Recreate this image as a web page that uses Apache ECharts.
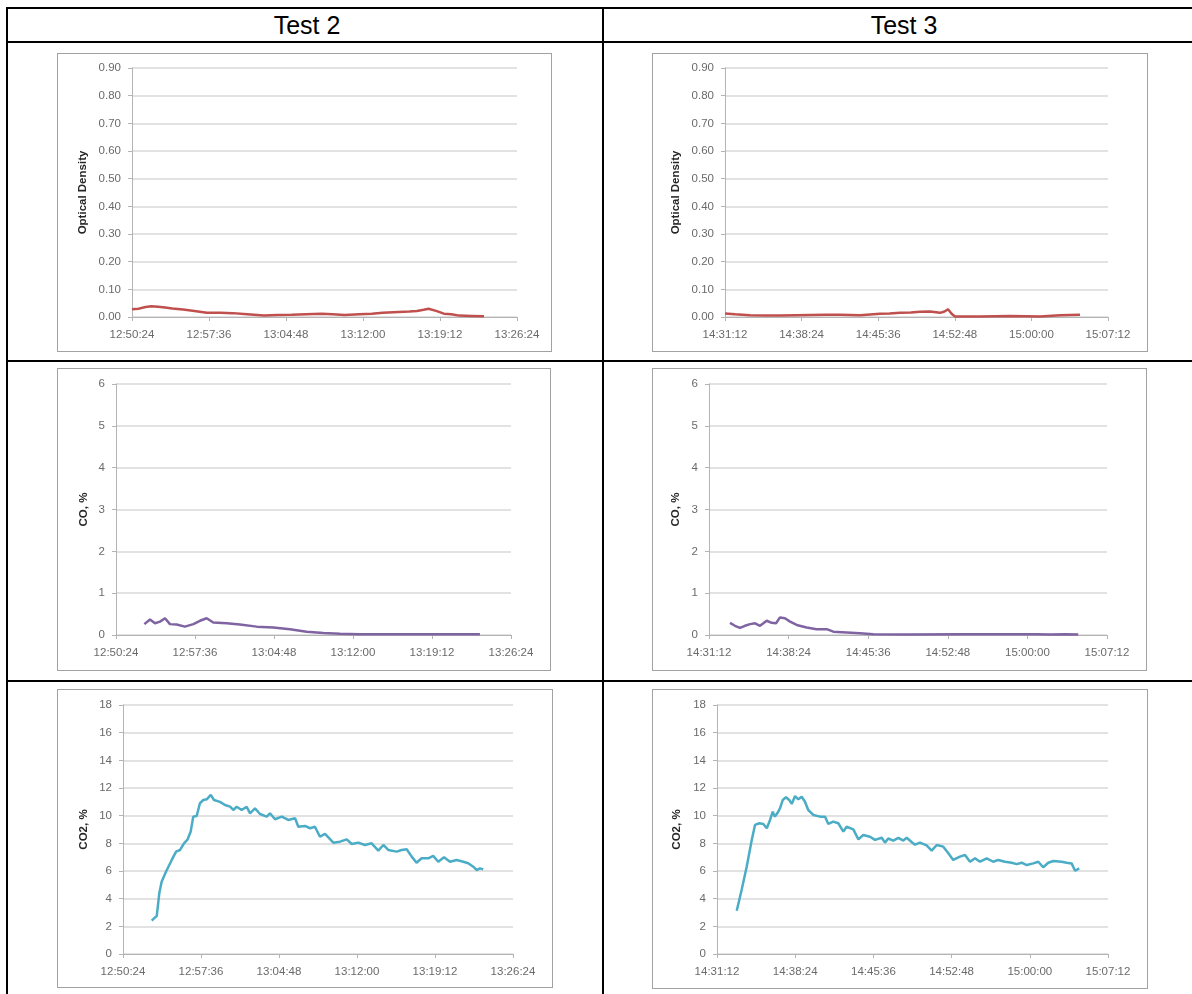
<!DOCTYPE html>
<html>
<head>
<meta charset="utf-8">
<script src="https://cdn.jsdelivr.net/npm/echarts@6/dist/echarts.min.js"></script>
<style>
  html, body { margin: 0; padding: 0; background: #fff; }
  #page { position: relative; width: 1192px; height: 994px; overflow: hidden; font-family: "Liberation Sans", Arial, sans-serif; }
  .rule { position: absolute; background: #000; }
  .frame { position: absolute; box-sizing: border-box; border: 1px solid #a2a2a2; background: #fff; }
  .head { position: absolute; top: 9px; height: 32px; line-height: 32px; font-size: 25px; color: #000; text-align: center; width: 200px; }
  #chart { position: absolute; left: 0; top: 0; width: 1192px; height: 994px; }
</style>
</head>
<body>
<div id="page">
  <!-- table rules -->
  <div class="rule" style="left:6px;top:7px;width:1186px;height:2px"></div>
  <div class="rule" style="left:6px;top:41px;width:1186px;height:2px"></div>
  <div class="rule" style="left:6px;top:360px;width:1186px;height:2px"></div>
  <div class="rule" style="left:6px;top:680px;width:1186px;height:2px"></div>
  <div class="rule" style="left:6px;top:7px;width:2px;height:987px"></div>
  <div class="rule" style="left:602px;top:7px;width:2px;height:987px"></div>
  <div class="head" style="left:207px">Test 2</div>
  <div class="head" style="left:804px">Test 3</div>
  <!-- chart frames -->
  <div class="frame" style="left:57px;top:53px;width:495px;height:299px"></div>
  <div class="frame" style="left:652px;top:53px;width:496px;height:299px"></div>
  <div class="frame" style="left:57px;top:368px;width:494px;height:303px"></div>
  <div class="frame" style="left:652px;top:368px;width:495px;height:303px"></div>
  <div class="frame" style="left:57px;top:689px;width:496px;height:299px"></div>
  <div class="frame" style="left:652px;top:689px;width:496px;height:300px"></div>
  <div id="chart"></div>
</div>
<script>
// Time axis extents (h:mm:ss) and tick step
const T2_TIME_RANGE = ['12:50:24', '13:26:24'];
const T3_TIME_RANGE = ['14:31:12', '15:07:12'];
const TIME_STEP = '0:07:12';

// Value axes: [min, max, step]
const OD_AXIS = [0, 0.9, 0.1];
const CO_AXIS = [0, 6, 1];
const CO2_AXIS = [0, 18, 2];

// Test 2 – optical density
const T2_OD_TIME = ['12:50:24','12:51:00','12:51:40','12:52:12','12:52:50','12:53:30','12:54:10','12:55:10','12:56:15','12:57:23','12:58:40','12:59:50','13:01:10','13:02:45','13:04:00','13:05:20','13:06:40','13:08:07','13:09:10','13:10:16','13:11:40','13:12:50','13:13:50','13:15:20','13:16:20','13:17:03','13:17:40','13:18:08','13:18:50','13:19:34','13:20:15','13:21:00','13:22:10','13:23:19'];
const T2_OD = [0.028,0.030,0.036,0.039,0.037,0.034,0.031,0.027,0.022,0.015,0.015,0.014,0.010,0.005,0.007,0.008,0.010,0.012,0.010,0.007,0.010,0.012,0.015,0.018,0.020,0.022,0.026,0.030,0.022,0.012,0.010,0.005,0.004,0.003];

// Test 3 – optical density
const T3_OD_TIME = ['14:31:12','14:32:08','14:33:33','14:35:00','14:36:22','14:37:50','14:39:11','14:40:40','14:42:01','14:43:53','14:44:50','14:45:46','14:46:40','14:47:39','14:48:40','14:49:32','14:50:28','14:51:25','14:51:50','14:52:10','14:52:30','14:52:49','14:54:00','14:55:10','14:57:59','15:00:49','15:02:41','15:04:34'];
const T3_OD = [0.013,0.010,0.006,0.005,0.005,0.006,0.007,0.008,0.008,0.006,0.009,0.012,0.013,0.015,0.016,0.019,0.020,0.015,0.020,0.028,0.012,0.002,0.002,0.002,0.004,0.002,0.006,0.008];

// Test 2 – CO, %
const T2_CO_TIME = ['12:52:59','12:53:30','12:53:57','12:54:25','12:54:52','12:55:19','12:55:56','12:56:41','12:57:27','12:58:03','12:58:40','12:59:16','13:00:29','13:01:42','13:03:13','13:04:44','13:06:15','13:07:47','13:09:18','13:10:49','13:12:38','13:16:17','13:19:56','13:23:34'];
const T2_CO = [0.26,0.37,0.28,0.32,0.40,0.26,0.25,0.20,0.26,0.34,0.40,0.30,0.28,0.25,0.20,0.18,0.14,0.08,0.05,0.03,0.02,0.02,0.02,0.02];

// Test 3 – CO, %
const T3_CO_TIME = ['14:33:06','14:33:33','14:34:00','14:34:27','14:34:55','14:35:22','14:35:49','14:36:25','14:36:52','14:37:16','14:37:37','14:38:04','14:38:32','14:39:08','14:40:02','14:40:56','14:41:51','14:42:27','14:43:39','14:44:51','14:46:04','14:49:05','14:53:54','15:00:50','15:02:03','15:03:24','15:04:36'];
const T3_CO = [0.29,0.22,0.17,0.22,0.26,0.28,0.22,0.34,0.29,0.28,0.42,0.40,0.32,0.24,0.18,0.14,0.14,0.08,0.06,0.04,0.02,0.01,0.02,0.02,0.01,0.02,0.01];

// Test 2 – CO2, %
const T2_CO2_TIME = ['12:53:03','12:53:31','12:53:45','12:53:58','12:54:22','12:54:54','12:55:18','12:55:40','12:56:02','12:56:22','12:56:39','12:56:53','12:57:12','12:57:30','12:57:49','12:58:08','12:58:30','12:58:48','12:59:21','12:59:49','13:00:17','13:00:35','13:00:54','13:01:21','13:01:49','13:02:07','13:02:35','13:03:03','13:03:40','13:03:58','13:04:26','13:05:03','13:05:39','13:06:17','13:06:35','13:07:12','13:07:40','13:08:07','13:08:35','13:09:03','13:09:49','13:10:26','13:11:03','13:11:31','13:12:07','13:12:44','13:13:21','13:13:58','13:14:26','13:14:53','13:15:40','13:16:07','13:16:35','13:17:03','13:17:30','13:17:58','13:18:35','13:19:02','13:19:30','13:20:02','13:20:35','13:21:12','13:21:49','13:22:16','13:22:44','13:23:03','13:23:21','13:23:39'];
const T2_CO2 = [2.41,2.75,4.39,5.23,5.95,6.80,7.40,7.52,8.00,8.29,8.85,9.93,9.98,10.90,11.13,11.18,11.50,11.13,11.00,10.77,10.65,10.41,10.65,10.41,10.65,10.17,10.53,10.12,9.93,10.17,9.74,9.93,9.69,9.81,9.20,9.26,9.09,9.20,8.48,8.68,8.05,8.12,8.29,7.95,8.05,7.88,8.00,7.47,7.88,7.52,7.40,7.52,7.57,7.04,6.60,6.92,6.92,7.09,6.67,6.99,6.67,6.80,6.67,6.56,6.31,6.07,6.19,6.12];

// Test 3 – CO2, %
const T3_CO2_TIME = ['14:33:01','14:33:28','14:33:56','14:34:24','14:34:42','14:35:06','14:35:28','14:35:47','14:36:05','14:36:20','14:36:32','14:36:45','14:37:00','14:37:15','14:37:33','14:37:51','14:38:05','14:38:23','14:38:41','14:39:00','14:39:18','14:39:36','14:40:04','14:40:41','14:41:09','14:41:27','14:41:54','14:42:22','14:42:50','14:43:08','14:43:45','14:44:13','14:44:40','14:45:17','14:45:45','14:46:22','14:46:40','14:46:58','14:47:26','14:47:54','14:48:21','14:48:40','14:49:07','14:49:26','14:49:53','14:50:30','14:50:58','14:51:26','14:52:02','14:52:30','14:52:57','14:53:34','14:54:02','14:54:30','14:54:57','14:55:25','14:56:02','14:56:38','14:57:06','14:57:43','14:58:20','14:58:48','14:59:15','14:59:43','15:00:19','15:00:47','15:01:14','15:01:42','15:02:10','15:02:56','15:03:24','15:03:51','15:04:10','15:04:33'];
const T3_CO2 = [3.13,4.63,6.31,8.24,9.33,9.45,9.40,9.09,9.69,10.29,9.93,10.17,10.53,11.13,11.33,11.13,10.85,11.42,11.18,11.37,11.01,10.41,10.05,9.93,9.93,9.40,9.57,9.45,8.85,9.20,9.01,8.29,8.60,8.48,8.25,8.40,8.05,8.35,8.20,8.40,8.20,8.40,8.10,7.90,8.05,7.85,7.47,7.88,7.76,7.28,6.80,7.04,7.16,6.67,6.92,6.67,6.92,6.67,6.80,6.67,6.60,6.50,6.60,6.43,6.55,6.67,6.27,6.60,6.72,6.67,6.60,6.55,6.02,6.19];

// ---- helpers ----
function toSec(t) {
  const p = t.split(':').map(Number);
  return p[0] * 3600 + p[1] * 60 + p[2];
}
function pad(n) { return (n < 10 ? '0' : '') + n; }
function fmtTime(sec) {
  const h = Math.floor(sec / 3600), m = Math.floor((sec % 3600) / 60), s = Math.round(sec % 60);
  return h + ':' + pad(m) + ':' + pad(s);
}
function pairs(times, vals) { return times.map((t, i) => [toSec(t), vals[i]]); }

const LABEL_FONT = '"Liberation Sans", Arial, sans-serif';
const RED = '#c0504d', PURPLE = '#8064a2', CYAN = '#4bacc6';

// panel layout: plot rectangle in page pixels
const panels = [
  { rect: [132, 68, 385, 249], range: T2_TIME_RANGE, y: OD_AXIS, dec: 2, name: 'Optical Density', gap: 43, color: RED, data: pairs(T2_OD_TIME, T2_OD) },
  { rect: [725, 68, 383, 249], range: T3_TIME_RANGE, y: OD_AXIS, dec: 2, name: 'Optical Density', gap: 43, color: RED, data: pairs(T3_OD_TIME, T3_OD) },
  { rect: [116, 384, 395, 251], range: T2_TIME_RANGE, y: CO_AXIS, dec: 0, name: 'CO, %', gap: 26, color: PURPLE, data: pairs(T2_CO_TIME, T2_CO) },
  { rect: [709, 384, 398, 251], range: T3_TIME_RANGE, y: CO_AXIS, dec: 0, name: 'CO, %', gap: 27, color: PURPLE, data: pairs(T3_CO_TIME, T3_CO) },
  { rect: [123, 705, 390, 249], range: T2_TIME_RANGE, y: CO2_AXIS, dec: 0, name: 'CO2, %', gap: 33, color: CYAN, data: pairs(T2_CO2_TIME, T2_CO2) },
  { rect: [717, 705, 391, 249], range: T3_TIME_RANGE, y: CO2_AXIS, dec: 0, name: 'CO2, %', gap: 34, color: CYAN, data: pairs(T3_CO2_TIME, T3_CO2) }
];

const grid = [], xAxis = [], yAxis = [], series = [];
panels.forEach((p, i) => {
  grid.push({ left: p.rect[0], top: p.rect[1], width: p.rect[2], height: p.rect[3], containLabel: false });
  xAxis.push({
    gridIndex: i, type: 'value',
    min: toSec(p.range[0]), max: toSec(p.range[1]), interval: toSec(TIME_STEP),
    axisLine: { show: true, onZero: false, lineStyle: { color: '#b4b4b4', width: 1 } },
    axisTick: { show: true, length: 4, inside: false, lineStyle: { color: '#b4b4b4' } },
    splitLine: { show: false },
    axisLabel: { margin: 12, fontFamily: LABEL_FONT, fontSize: 11.5, color: '#6a6a6a', formatter: v => fmtTime(v), showMinLabel: true, showMaxLabel: true }
  });
  yAxis.push({
    gridIndex: i, type: 'value',
    min: p.y[0], max: p.y[1], interval: p.y[2],
    name: p.name, nameLocation: 'middle', nameRotate: 90, nameGap: p.gap,
    nameTextStyle: { fontFamily: LABEL_FONT, fontSize: 11.5, fontWeight: 'bold', color: '#262626' },
    axisLine: { show: true, lineStyle: { color: '#b4b4b4', width: 1 } },
    axisTick: { show: true, length: 4, lineStyle: { color: '#b4b4b4' } },
    splitLine: { show: true, lineStyle: { color: '#d9d9d9', width: 1.5 } },
    axisLabel: { margin: 11, fontFamily: LABEL_FONT, fontSize: 11.5, color: '#6a6a6a', formatter: v => v.toFixed(p.dec) }
  });
  series.push({
    type: 'line', xAxisIndex: i, yAxisIndex: i, data: p.data,
    showSymbol: false, smooth: false, silent: true,
    lineStyle: { color: p.color, width: 2.5 }
  });
});

const chart = echarts.init(document.getElementById('chart'), null, { renderer: 'canvas' });
chart.setOption({ animation: false, backgroundColor: 'transparent', grid, xAxis, yAxis, series });
</script>
</body>
</html>
